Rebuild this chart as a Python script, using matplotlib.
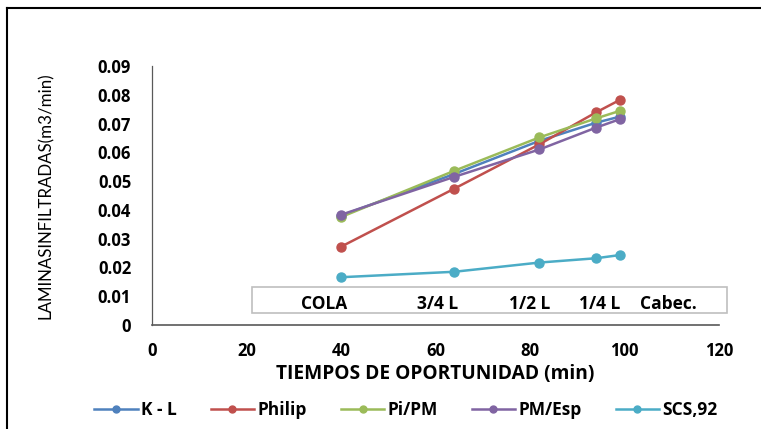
import matplotlib.pyplot as plt
from matplotlib.patches import Rectangle
from matplotlib.lines import Line2D

plt.rcParams['font.family'] = ['Open Sans', 'DejaVu Sans']

# tiempos de oportunidad (min)
tiempos = [40, 64, 82, 94, 99]

kl = [0.0380, 0.0525, 0.0640, 0.0703, 0.0724]
philip = [0.0272, 0.0474, 0.0628, 0.0739, 0.0782]
pi_pm = [0.0375, 0.0536, 0.0652, 0.0718, 0.0744]
pm_esp = [0.0383, 0.0515, 0.0610, 0.0686, 0.0715]
scs92 = [0.0166, 0.0185, 0.0217, 0.0232, 0.0243]

series = ['K - L', 'Philip', 'Pi/PM', 'PM/Esp', 'SCS,92']
colores = ['#4F81BD', '#C0504D', '#9BBB59', '#8064A2', '#4BACC6']
tramos = ['COLA', '3/4 L', '1/2 L', '1/4 L', 'Cabec.']
tramos_x = [324, 438, 530, 600, 668]   # pixel positions of the labels in the box

W, H = 761, 429
fig = plt.figure(figsize=(W / 100, H / 100), dpi=100)
ax = fig.add_axes([152 / W, 1 - 325 / H, 567 / W, 259 / H])

for vals, nombre, c in zip([kl, philip, pi_pm, pm_esp, scs92], series, colores):
    ax.plot(tiempos, vals, '-o', color=c, lw=1.8, ms=6.5, label=nombre)

ax.set_xlim(0, 120)
ax.set_ylim(0, 0.09)
ax.set_xticks(range(0, 121, 20))
ax.set_yticks([i / 100 for i in range(10)])
ax.set_yticklabels(['0'] + ['%.2f' % (i / 100) for i in range(1, 10)])
ax.tick_params(axis='y', length=0, labelsize=12, pad=15)
ax.tick_params(axis='x', length=0, labelsize=12, pad=12)
for lab in ax.get_xticklabels() + ax.get_yticklabels():
    lab.set_fontweight('bold')
ax.spines['top'].set_visible(False)
ax.spines['right'].set_visible(False)
ax.spines['left'].set_color('#595959')
ax.spines['bottom'].set_color('#595959')
ax.spines['left'].set_linewidth(0.9)
ax.spines['bottom'].set_linewidth(1.2)

ax.set_xlabel('TIEMPOS DE OPORTUNIDAD (min)', fontsize=13.8, fontweight='bold', labelpad=3)
fig.text(46 / W, 1 - 196 / H, 'LAMINASINFILTRADAS(m3/min)', rotation=90,
         ha='center', va='center', fontsize=12.2, family=['Lato', 'DejaVu Sans'])

# caja con los tramos
fig.patches.append(Rectangle((252 / W, 1 - 313 / H), 475 / W, 26 / H,
                             transform=fig.transFigure, fill=True, facecolor='white',
                             edgecolor='#BFBFBF', lw=1.2, zorder=5))
for t, px in zip(tramos, tramos_x):
    fig.text(px / W, 1 - 304 / H, t, ha='center', va='center', fontsize=12.5,
             fontweight='bold', zorder=6)

# leyenda
handles = [Line2D([], [], color=c, marker='o', lw=1.8, ms=5) for c in colores]
leg = fig.legend(handles, series, loc='center', ncol=5, frameon=False,
                 bbox_to_anchor=(406 / W, 1 - 410 / H), prop={'weight': 'bold', 'size': 12.5},
                 handlelength=2.5, handletextpad=0.2, columnspacing=1.95)

# marco de la figura (solo arriba e izquierda visibles)
fig.add_artist(Line2D([7 / W, 7 / W], [0, 1 - 8 / H], color='black', lw=1.5, transform=fig.transFigure))
fig.add_artist(Line2D([7 / W, 1], [1 - 8 / H, 1 - 8 / H], color='black', lw=1.5, transform=fig.transFigure))

fig.savefig('out.png', dpi=100)
